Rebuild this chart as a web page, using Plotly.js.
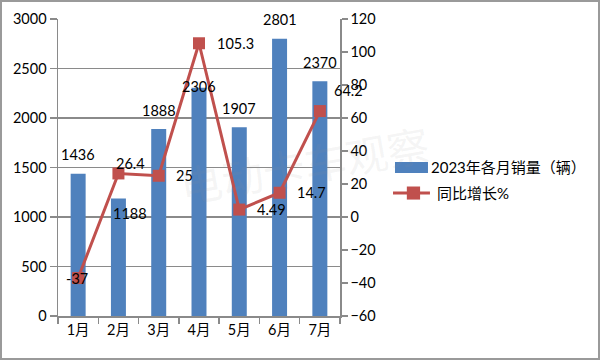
<!DOCTYPE html>
<html>
<head>
<meta charset="utf-8">
<script src="https://cdn.plot.ly/plotly-3.0.1.min.js"></script>
<style>
html,body{margin:0;padding:0;background:#fff;}
#wrap{position:relative;width:600px;height:360px;}
#chart{position:absolute;left:0;top:0;width:600px;height:360px;}
#frame{position:absolute;left:0;top:0;width:600px;height:360px;box-sizing:border-box;border:2px solid #9a9a9a;pointer-events:none;}
</style>
</head>
<body>
<div id="wrap"><div id="chart"></div><div id="frame"></div></div>
<script>
// ---- data ----
const months = ["1月","2月","3月","4月","5月","6月","7月"];
const sales = [1436, 1188, 1888, 2306, 1907, 2801, 2370];
const growth = [-37, 26.4, 25, 105.3, 4.49, 14.7, 64.2];
const growthLabels = ["-37","26.4","25","105.3","4.49","14.7","64.2"];
const salesName = "2023年各月销量（辆）";
const growthName = "同比增长%";
const watermark = "电动卡车观察";

// label offsets (px) for data labels
const salesLabelShift = [[0,19],[12,-15],[0,19],[0,1],[0,19],[0,19],[0,19]];
const growthLabelShift = [[-1,0],[12,10],[26,0],[36,0],[32,0],[32,0],[29,21]];

const FONT = "Lato, 'Noto Sans CJK SC', sans-serif";
const BAR = "#4F81BD", LINE = "#C0504D", AX = "#8a8a8a";

const traces = [
  {type:"bar", x:months, y:sales, name:salesName, marker:{color:BAR}, yaxis:"y", hoverinfo:"none"},
  {type:"scatter", mode:"lines+markers", x:months, y:growth, name:growthName, yaxis:"y2",
   line:{color:LINE, width:3}, marker:{symbol:"square", size:12, color:LINE}, hoverinfo:"none"}
];

const ann = [];
sales.forEach((v,i)=>ann.push({x:months[i], y:v, xref:"x", yref:"y", text:String(v), showarrow:false,
  xanchor:"center", yanchor:"middle", xshift:salesLabelShift[i][0], yshift:salesLabelShift[i][1],
  font:{family:FONT, size:14.5, color:"#000"}}));
growth.forEach((v,i)=>ann.push({x:months[i], y:v, xref:"x", yref:"y2", text:growthLabels[i], showarrow:false,
  xanchor:"center", yanchor:"middle", xshift:growthLabelShift[i][0], yshift:growthLabelShift[i][1],
  font:{family:FONT, size:14.5, color:"#000"}}));
// watermark
ann.push({xref:"paper", yref:"paper", x:0.872, y:0.515, text:watermark, showarrow:false, textangle:-10,
  xanchor:"center", yanchor:"middle", font:{family:"'Noto Sans CJK SC', sans-serif", size:42, color:"rgba(150,150,150,0.10)"}});
// custom legend text
ann.push({xref:"paper", yref:"paper", x:1.316, y:0.5017, text:salesName, showarrow:false, xanchor:"left", yanchor:"middle",
  font:{family:FONT, size:15, color:"#000"}});
ann.push({xref:"paper", yref:"paper", x:1.337, y:0.414, text:growthName, showarrow:false, xanchor:"left", yanchor:"middle",
  font:{family:FONT, size:15, color:"#000"}});

const shapes = [
  {type:"rect", xref:"paper", yref:"paper", x0:1.195, x1:1.312, y0:0.4815, y1:0.5185, fillcolor:BAR, line:{width:0}},
  {type:"line", xref:"paper", yref:"paper", x0:1.188, x1:1.319, y0:0.414, y1:0.414, line:{color:LINE, width:3}},
  {type:"rect", xref:"paper", yref:"paper", x0:1.237, x1:1.284, y0:0.392, y1:0.436, fillcolor:LINE, line:{width:0}}
];

const layout = {
  width:600, height:360,
  margin:{l:58, r:260, t:19, b:44},
  paper_bgcolor:"#fff", plot_bgcolor:"#fff",
  showlegend:false,
  bargap:0.628,
  font:{family:FONT, size:14.5, color:"#000"},
  xaxis:{type:"category", range:[-0.5, months.length-0.5], autorange:false, showline:true, linecolor:AX, linewidth:1.5, ticks:"outside", tickson:"boundaries",
    ticklen:6, tickcolor:AX, tickwidth:1.5, showgrid:false, zeroline:false, fixedrange:true,
    tickfont:{family:FONT, size:14.5, color:"#000"}},
  yaxis:{range:[0,3000], dtick:500, showline:true, linecolor:AX, linewidth:1.5, ticks:"outside", ticklen:7,
    tickcolor:AX, tickwidth:1.5, showgrid:true, gridcolor:AX, gridwidth:1.2, zeroline:false, fixedrange:true,
    tickfont:{family:FONT, size:14.5, color:"#000"}},
  yaxis2:{range:[-60,120], dtick:20, overlaying:"y", side:"right", showline:true, linecolor:AX, linewidth:1.5,
    ticks:"outside", ticklen:6, tickcolor:AX, tickwidth:1.5, showgrid:false, zeroline:false, fixedrange:true,
    tickfont:{family:FONT, size:14.5, color:"#000"}},
  annotations:ann,
  shapes:shapes
};

Plotly.newPlot("chart", traces, layout, {staticPlot:true, displayModeBar:false});
</script>
</body>
</html>
